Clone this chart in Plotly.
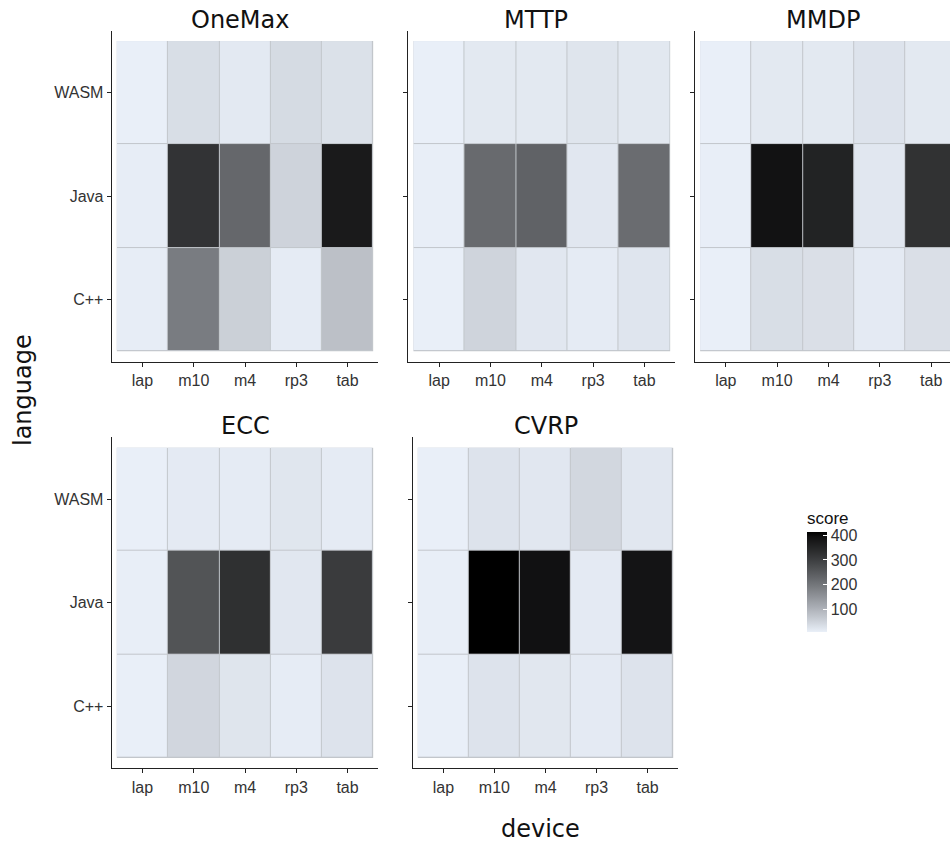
import plotly.graph_objects as go

# ---------------- data ----------------
problems = ["OneMax", "MTTP", "MMDP", "ECC", "CVRP"]
devices = ["lap", "m10", "m4", "rp3", "tab"]
languages = ["C++", "Java", "WASM"]

# rows follow `languages` (C++, Java, WASM); columns follow `devices`
score_onemax = [[12, 190, 56, 15, 80],
                [12, 322, 226, 51, 372],
                [9, 35, 18, 40, 30]]
score_mttp = [[9, 49, 21, 15, 24],
              [10, 221, 235, 21, 217],
              [9, 19, 19, 25, 20]]
score_mmdp = [[9, 35, 33, 16, 33],
              [10, 389, 354, 21, 324],
              [9, 19, 19, 27, 19]]
score_ecc = [[9, 46, 25, 14, 27],
             [10, 261, 328, 21, 306],
             [9, 16, 15, 23, 15]]
score_cvrp = [[9, 27, 22, 16, 27],
              [10, 413, 391, 16, 385],
              [9, 27, 21, 45, 21]]
scores = [score_onemax, score_mttp, score_mmdp, score_ecc, score_cvrp]

colorbar_ticks = [100, 200, 300, 400]

# ---------------- colour scale (Lab interpolation like ggplot) ----------------
LOW = (233, 239, 248)
HIGH = (0, 0, 0)


def _lin(c):
    c = c / 255.0
    return c / 12.92 if c <= 0.04045 else ((c + 0.055) / 1.055) ** 2.4


def _gam(c):
    c = 12.92 * c if c <= 0.0031308 else 1.055 * c ** (1 / 2.4) - 0.055
    return max(0, min(255, round(c * 255)))


WP = (0.95047, 1.0, 1.08883)


def rgb2lab(rgb):
    r, g, b = [_lin(v) for v in rgb]
    X = 0.4124 * r + 0.3576 * g + 0.1805 * b
    Y = 0.2126 * r + 0.7152 * g + 0.0722 * b
    Z = 0.0193 * r + 0.1192 * g + 0.9505 * b

    def f(t):
        return t ** (1 / 3) if t > 0.008856 else 7.787 * t + 16 / 116

    fx, fy, fz = f(X / WP[0]), f(Y / WP[1]), f(Z / WP[2])
    return (116 * fy - 16, 500 * (fx - fy), 200 * (fy - fz))


def lab2rgb(lab):
    L, a, b = lab
    fy = (L + 16) / 116
    fx = fy + a / 500
    fz = fy - b / 200

    def finv(t):
        return t ** 3 if t ** 3 > 0.008856 else (t - 16 / 116) / 7.787

    X, Y, Z = WP[0] * finv(fx), WP[1] * finv(fy), WP[2] * finv(fz)
    r = 3.2406 * X - 1.5372 * Y - 0.4986 * Z
    g = -0.9689 * X + 1.8758 * Y + 0.0415 * Z
    bb = 0.0557 * X - 0.2040 * Y + 1.0570 * Z
    return tuple(_gam(max(0.0, v)) for v in (r, g, bb))


lab_lo, lab_hi = rgb2lab(LOW), rgb2lab(HIGH)
colorscale = []
N = 20
for i in range(N + 1):
    t = i / N
    lab = tuple(lab_lo[k] + (lab_hi[k] - lab_lo[k]) * t for k in range(3))
    r, g, b = lab2rgb(lab)
    colorscale.append([t, f"rgb({r},{g},{b})"])

allvals = [v for s in scores for row in s for v in row]
cmin, cmax = min(allvals), max(allvals)

# ---------------- layout geometry (pixels) ----------------
W, H = 950, 847
panels_px = [  # x0, x1, ytop, ybottom
    (111.7, 378.3, 30.7, 361.7),
    (408.3, 675.3, 30.7, 361.7),
    (695.0, 962.0, 30.7, 361.7),
    (111.7, 378.3, 437.3, 768.3),
    (412.7, 678.3, 437.3, 768.3),
]
title_px = [(240, 19.5), (536, 19.5), (823, 19.5), (245, 426), (546, 426)]

TICKFONT = dict(family="Liberation Sans, Arial, sans-serif", size=16, color="#333333")
TITLEFONT = dict(family="DejaVu Sans, sans-serif", size=24, color="#111111")
LINE = "#222222"

fig = go.Figure()
layout_axes = {}
shapes = []
annotations = []
nx, ny = len(devices), len(languages)
for i, (name, sc, (x0, x1, yt, yb)) in enumerate(zip(problems, scores, panels_px)):
    k = "" if i == 0 else str(i + 1)
    ppu = (x1 - x0) / (nx + 0.2)
    x1c = min(x1, W)
    xr_end = -0.6 + (x1c - x0) / ppu
    fig.add_trace(go.Heatmap(
        z=sc, x=devices, y=languages, coloraxis="coloraxis",
        xgap=1, ygap=1, xaxis="x" + k, yaxis="y" + k,
        hovertemplate="%{x} / %{y}: %{z}<extra></extra>",
    ))
    layout_axes["xaxis" + k] = dict(
        domain=[x0 / W, x1c / W], anchor="y" + k, type="category",
        categoryorder="array", categoryarray=devices,
        range=[-0.6, xr_end], showline=True, linecolor=LINE, linewidth=1.1,
        ticks="outside", ticklen=4, tickcolor=LINE, tickwidth=1,
        tickfont=TICKFONT, showgrid=False, zeroline=False,
    )
    layout_axes["yaxis" + k] = dict(
        domain=[1 - yb / H, 1 - yt / H], anchor="x" + k, type="category",
        categoryorder="array", categoryarray=languages,
        range=[-0.6, ny - 1 + 0.6], showline=True, linecolor=LINE, linewidth=1.1,
        ticks="outside", ticklen=4, tickcolor=LINE, tickwidth=1,
        tickfont=TICKFONT, showgrid=False, zeroline=False,
        showticklabels=(i in (0, 3)),
    )
    shapes.append(dict(type="rect", xref="x" + k, yref="y" + k,
                       x0=-0.5, x1=nx - 0.5, y0=-0.5, y1=ny - 0.5,
                       fillcolor="#c2c6cb", line=dict(width=0), layer="below"))
    tx, ty = title_px[i]
    annotations.append(dict(text=name, x=tx / W, y=1 - ty / H, xref="paper", yref="paper",
                            xanchor="center", yanchor="middle", showarrow=False,
                            font=TITLEFONT))

annotations.append(dict(text="device", x=540 / W, y=1 - 829 / H, xref="paper", yref="paper",
                        xanchor="center", yanchor="middle", showarrow=False, font=TITLEFONT))
annotations.append(dict(text="language", x=23 / W, y=1 - 390 / H, xref="paper", yref="paper",
                        xanchor="center", yanchor="middle", showarrow=False, textangle=-90,
                        font=TITLEFONT))

fig.update_layout(
    width=W, height=H, margin=dict(l=0, r=0, t=0, b=0),
    paper_bgcolor="white", plot_bgcolor="white",
    showlegend=False, shapes=shapes, annotations=annotations,
    coloraxis=dict(
        colorscale=colorscale, cmin=cmin, cmax=cmax,
        colorbar=dict(
            title=dict(text="score", side="top",
                       font=dict(family="Liberation Sans, Arial, sans-serif", size=17, color="#111111")),
            tickvals=colorbar_ticks, ticks="inside", ticklen=4, tickcolor="white", tickwidth=1,
            tickfont=dict(family="Liberation Sans, Arial, sans-serif", size=16, color="#333333"),
            thickness=20, thicknessmode="pixels", len=124, lenmode="pixels",
            x=807 / W, xanchor="left", xpad=0, y=1 - 632 / H, yanchor="bottom", ypad=0,
            outlinewidth=0,
        ),
    ),
    **layout_axes,
)

fig.write_html("out.html")
